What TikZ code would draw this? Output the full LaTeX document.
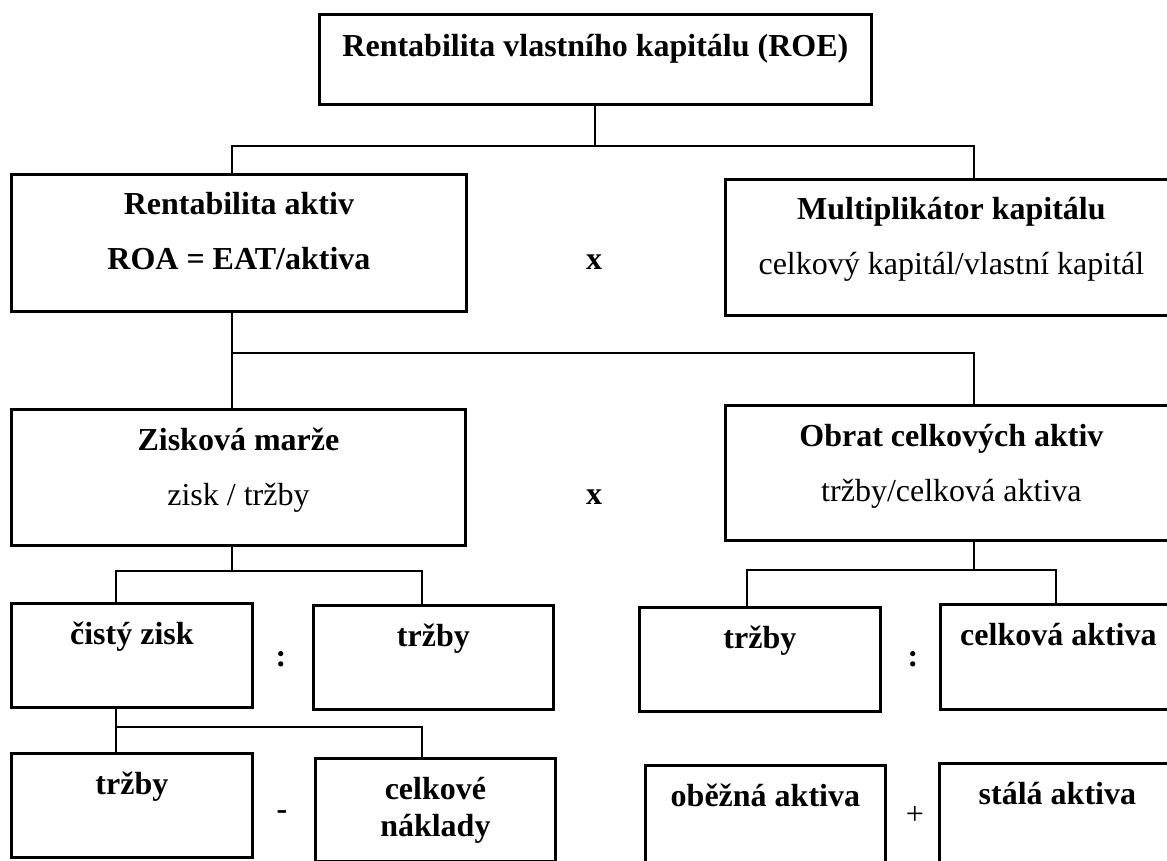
\documentclass[tikz,border=0pt]{standalone}
\usepackage{fontspec}
\setmainfont{Liberation Serif}
\usetikzlibrary{calc}
\begin{document}
\begin{tikzpicture}[x=0.5pt,y=-0.5pt,
  box/.style 2 args={draw,line width=1.4pt,anchor=north west,inner sep=0pt,
    minimum width=#1*0.5pt,minimum height=#2*0.5pt},
  toptext/.style={anchor=base,yshift=-21pt,font=\fontsize{16}{19}\selectfont\bfseries},
  subtext/.style={anchor=base,yshift=-48.5pt,font=\fontsize{16}{19}\selectfont},
  lowtext/.style={anchor=base,yshift=-39.5pt,font=\fontsize{16}{19}\selectfont\bfseries},
  opsign/.style={font=\fontsize{16}{19}\selectfont\bfseries},
  link/.style={line width=1pt}]
  \clip (0,0) rectangle (1167,861);
  \node[box={552}{90},label={[toptext,yshift=-1pt]north:Rentabilita vlastního kapitálu (ROE)}] (roe) at (318,13) {};
  \node[box={455}{137},label={[toptext]north:Rentabilita aktiv},
    label={[subtext,font=\fontsize{16}{19}\selectfont\bfseries]north:ROA = EAT/aktiva}] (ra) at (10,173) {};
  \node[box={452}{136},label={[toptext]north:Multiplikátor kapitálu},
    label={[subtext]north:celkový kapitál/vlastní kapitál}] (mk) at (724,178) {};
  \node[box={454}{136},label={[toptext]north:Zisková marže},
    label={[subtext]north:zisk / tržby}] (zm) at (10,408) {};
  \node[box={452}{135},label={[toptext]north:Obrat celkových aktiv},
    label={[subtext]north:tržby/celková aktiva}] (oca) at (724,404) {};
  \node[box={241}{104},label={[toptext]north:čistý zisk}] (cz) at (10,602) {};
  \node[box={240}{104},label={[toptext]north:tržby}] (tr1) at (312,604) {};
  \node[box={241}{104},label={[toptext]north:tržby}] (tr2) at (638,606) {};
  \node[box={236}{105},label={[toptext]north:celková aktiva}] (ca) at (939,603) {};
  \node[box={241}{104},label={[toptext]north:tržby}] (tr3) at (10,752) {};
  \node[box={240}{103},label={[toptext]north:celkové},
    label={[lowtext]north:náklady}] (cn) at (314,757) {};
  \node[box={240}{120},label={[toptext]north:oběžná aktiva}] (oa) at (644,764) {};
  \node[box={236}{120},label={[toptext]north:stálá aktiva}] (sa) at (938,762) {};

  \node[opsign] (x1) at (594,262) {x};
  \node[opsign] (x2) at (594,497) {x};
  \node[opsign] (d1) at (281,659) {:};
  \node[opsign] (d2) at (913,659) {:};
  \node[opsign] (m1) at (282,815) {-};
  \node[opsign,font=\fontsize{16}{19}\selectfont] (p1) at (915,815) {+};

  \draw[link] (roe.south) -- ++(0,40) coordinate (j1) -| ($(mk.north west)+(250,0)$);
  \draw[link] (j1) -| ($(ra.north west)+(222,0)$);
  \draw[link] ($(ra.south west)+(222,0)$) -- ++(0,40) coordinate (j2) -| ($(oca.north west)+(250,0)$);
  \draw[link] (j2) -- ($(zm.north west)+(222,0)$);
  \draw[link] ($(zm.south west)+(222,0)$) -- ++(0,24) coordinate (j3) -| ($(tr1.north west)+(110,0)$);
  \draw[link] (j3) -| ($(cz.north west)+(106,0)$);
  \draw[link] ($(oca.south west)+(250,0)$) -- ++(0,28) coordinate (j4) -| ($(ca.north west)+(117,2)$);
  \draw[link] (j4) -| ($(tr2.north west)+(109,0)$);
  \draw[link] ($(cz.south west)+(106,0)$) -- ++(0,18) coordinate (j5) -| ($(cn.north west)+(108,0)$);
  \draw[link] (j5) -- ($(tr3.north west)+(106,0)$);
\end{tikzpicture}
\end{document}
